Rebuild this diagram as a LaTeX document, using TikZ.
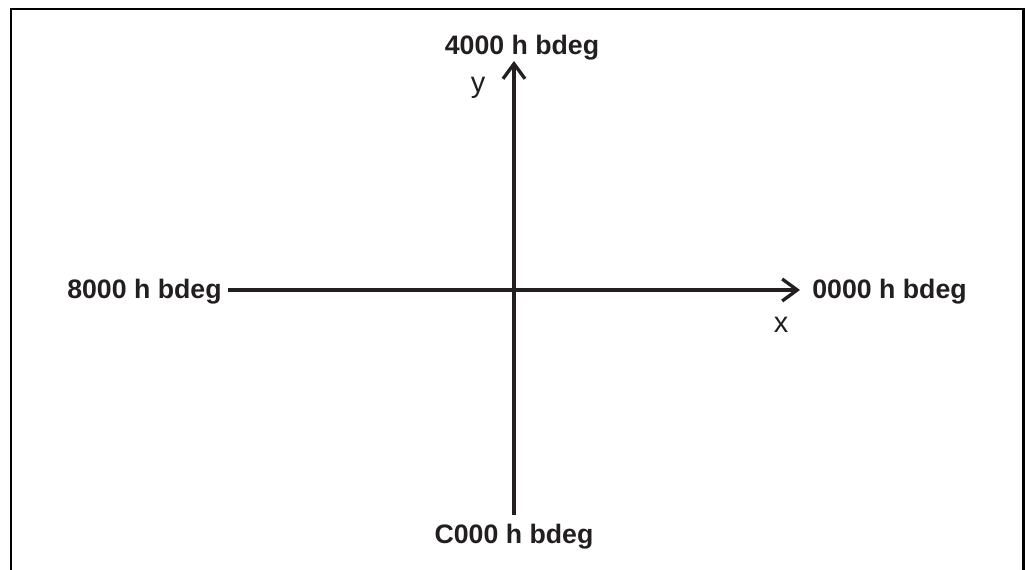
\documentclass[tikz,border=0pt]{standalone}
\usepackage{fontspec}
\setmainfont{Liberation Sans}
\usetikzlibrary{arrows.meta}
\definecolor{tinta}{HTML}{231F20}
\begin{document}
\begin{tikzpicture}[x=0.02cm,y=-0.02cm,
    eje/.style={tinta, line width=1.9pt, -{Straight Barb[length=0.3cm,width=0.44cm,line width=1.9pt]}},
    rotulo/.style={tinta, font=\fontsize{15.2}{18}\selectfont\bfseries, inner sep=0pt},
    letra/.style={tinta, font=\fontsize{16.5}{19}\selectfont, inner sep=0pt}]
  \useasboundingbox (0,0) rectangle (1025,570);
  % Marco abierto por abajo
  \draw[line width=1.2pt] (11,570) -- (11,9.3) -- (1023.5,9.3) -- (1023.5,570);

  % Extremos de los ejes
  \coordinate (abajo) at (514,515);
  \coordinate (arriba) at (514,61);
  \coordinate (izquierda) at (228,290);
  \coordinate (derecha) at (800,290);

  % Ejes x e y
  \draw[eje] (izquierda) -- (derecha);
  \draw[eje] (abajo) -- (arriba);

  % Rotulos de direcciones
  \node[rotulo, anchor=west] (este) at (812,292) {0000 h bdeg};
  \node[rotulo] (norte) at (522,48) {4000 h bdeg};
  \node[rotulo, anchor=east] (oeste) at (222,292) {8000 h bdeg};
  \node[rotulo] (sur) at (514,537) {C000 h bdeg};

  % Nombres de los ejes
  \node[letra] (ejex) at (781,325) {x};
  \node[letra] (ejey) at (478,88) {y};
\end{tikzpicture}
\end{document}
